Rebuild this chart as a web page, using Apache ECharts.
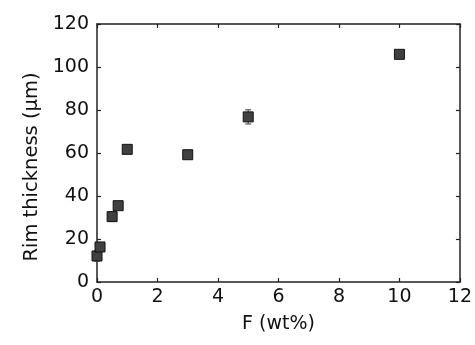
<!DOCTYPE html>
<html><head><meta charset="utf-8">
<script src="https://cdn.jsdelivr.net/npm/echarts@6/dist/echarts.min.js"></script>
<style>html,body{margin:0;padding:0;background:#fff}#c{width:475px;height:345px}</style>
</head><body><div id="c"></div>
<script>
var fContent = [0, 0.1, 0.5, 0.7, 1, 3, 5, 10];
var rimThickness = [12.1, 16.3, 30.4, 35.5, 61.7, 59.2, 76.8, 105.9];
var rimError = [2.4, 1.0, 2.2, 1.0, 1.0, 1.0, 3.3, 1.0];
var xTicks = [0, 2, 4, 6, 8, 10, 12];
var yTicks = [0, 20, 40, 60, 80, 100, 120];

var font = 'DejaVu Sans';
var pts = fContent.map(function (x, i) { return [x, rimThickness[i]]; });
var errs = fContent.map(function (x, i) { return [x, rimThickness[i] - rimError[i], rimThickness[i] + rimError[i]]; });
var axisLine = { show: true, onZero: false, lineStyle: { color: '#222', width: 1.5 } };
var tick = { show: true, inside: true, length: 4, lineStyle: { color: '#222', width: 1.2 } };
var chart = echarts.init(document.getElementById('c'), null, { renderer: 'canvas' });
chart.setOption({
  animation: false,
  backgroundColor: '#fff',
  grid: { left: 97, right: 14, top: 24, bottom: 63 },
  xAxis: [{
    type: 'value', position: 'bottom', min: xTicks[0], max: xTicks[xTicks.length - 1], interval: 2,
    name: 'F (wt%)', nameLocation: 'middle', nameGap: 33,
    nameTextStyle: { fontFamily: font, fontSize: 19, color: '#111' },
    axisLine: axisLine, axisTick: tick, splitLine: { show: false },
    axisLabel: { fontFamily: font, fontSize: 19, color: '#111', margin: 6 }
  }, {
    type: 'value', position: 'top', min: xTicks[0], max: xTicks[xTicks.length - 1], interval: 2,
    axisLine: axisLine, axisTick: tick, splitLine: { show: false }, axisLabel: { show: false }
  }],
  yAxis: [{
    type: 'value', position: 'left', min: yTicks[0], max: yTicks[yTicks.length - 1], interval: 20,
    name: 'Rim thickness (\u03bcm)', nameLocation: 'middle', nameGap: 54,
    nameTextStyle: { fontFamily: font, fontSize: 19.5, color: '#111', padding: [0, 28, 0, 0] },
    axisLine: axisLine, axisTick: tick, splitLine: { show: false },
    axisLabel: { fontFamily: font, fontSize: 19, color: '#111', margin: 8 }
  }, {
    type: 'value', position: 'right', min: yTicks[0], max: yTicks[yTicks.length - 1], interval: 20,
    axisLine: axisLine, axisTick: tick, splitLine: { show: false }, axisLabel: { show: false }
  }],
  series: [{
    type: 'custom',
    data: errs,
    z: 1,
    renderItem: function (params, api) {
      var x = api.value(0);
      var lo = api.coord([x, api.value(1)]);
      var hi = api.coord([x, api.value(2)]);
      var cap = 3;
      var st = { stroke: '#555', lineWidth: 1.2 };
      return { type: 'group', children: [
        { type: 'line', shape: { x1: lo[0], y1: lo[1], x2: hi[0], y2: hi[1] }, style: st },
        { type: 'line', shape: { x1: lo[0] - cap, y1: lo[1], x2: lo[0] + cap, y2: lo[1] }, style: st },
        { type: 'line', shape: { x1: hi[0] - cap, y1: hi[1], x2: hi[0] + cap, y2: hi[1] }, style: st }
      ] };
    }
  }, {
    type: 'scatter',
    data: pts,
    z: 2,
    symbol: 'rect',
    symbolSize: 10,
    itemStyle: { color: '#404040', borderColor: '#111', borderWidth: 1, opacity: 1 }
  }]
});
</script></body></html>
